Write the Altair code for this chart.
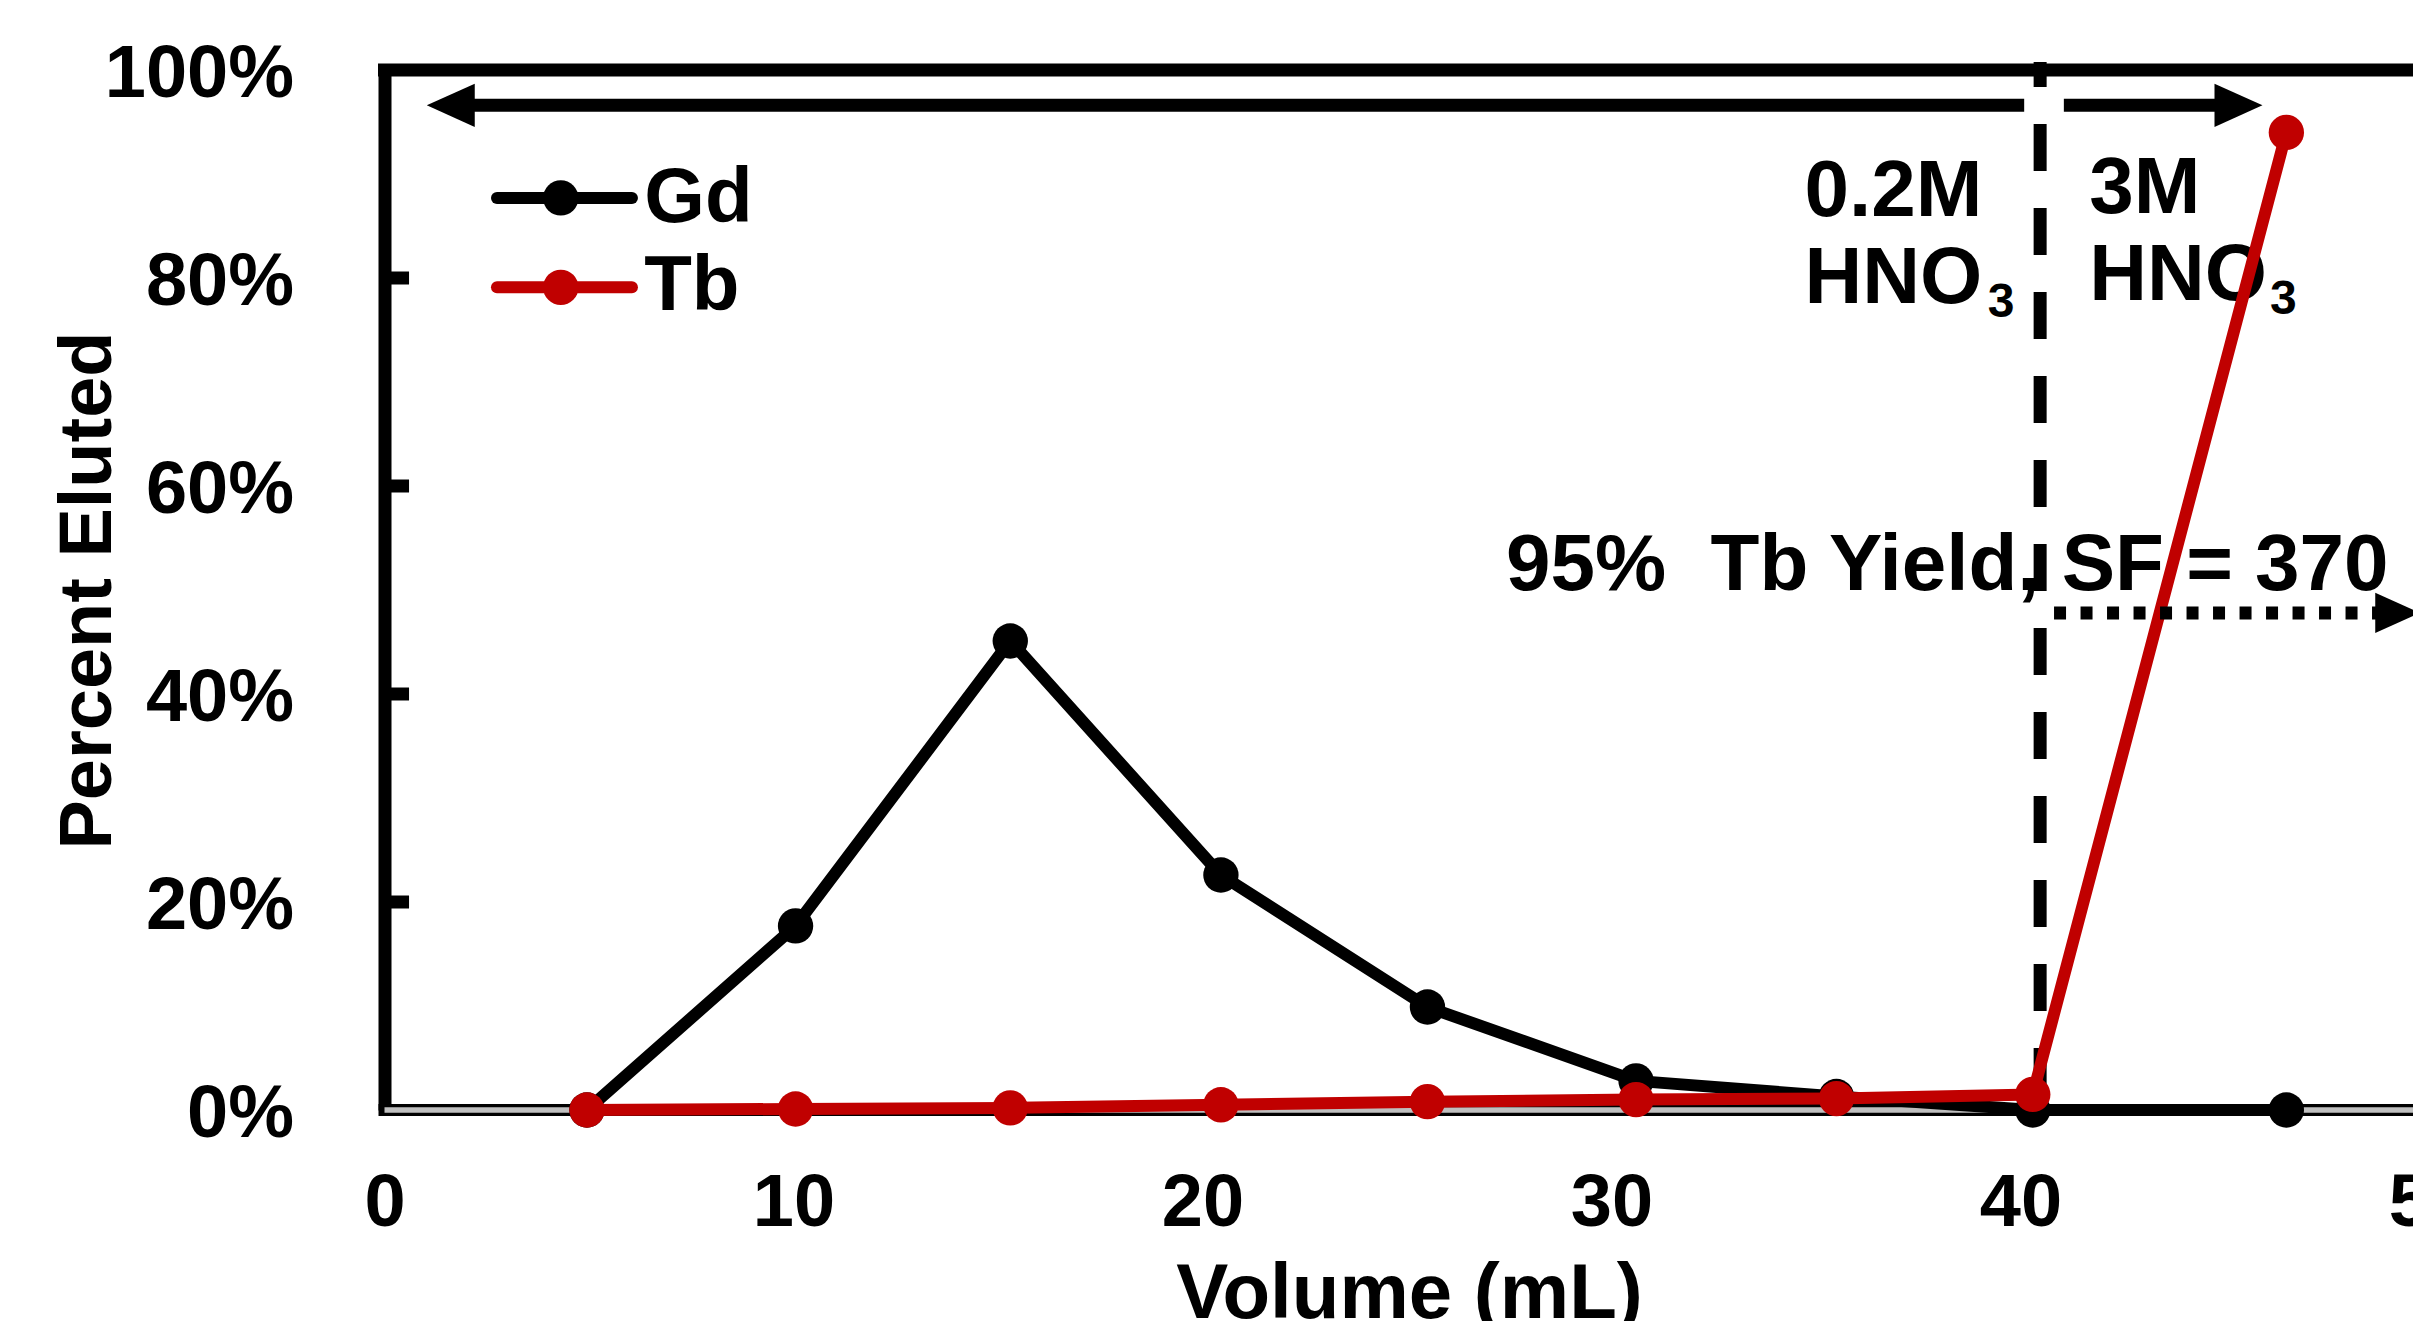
import altair as alt
import pandas as pd

# ---------------- data ----------------
volume_ml = [4.95, 10.05, 15.3, 20.45, 25.5, 30.6, 35.5, 40.3, 46.5]
gd_pct = [0.0, 17.7, 45.1, 22.6, 9.9, 2.8, 1.3, 0.0, 0.0]
tb_pct = [0.0, 0.1, 0.2, 0.5, 0.8, 1.0, 1.1, 1.5, 94.0]
elements = ["Gd", "Tb"]
element_colors = ["#000000", "#C00000"]
x_tick_values = [0, 10, 20, 30, 40, 50]
y_tick_values = [0, 20, 40, 60, 80, 100]
inner_tick_values = [20, 40, 60, 80]

# ---------------- annotations (data units) ----------------
divider_x = [40.48]
top_arrow_y = [96.6]
left_arrow = {"x": [1.7], "x2": [40.09]}
right_arrow = {"x": [41.06], "x2": [45.2]}
left_head_x = [1.62]
right_head_x = [45.33]
sf_arrow_y = [47.8]
sf_arrow = {"x": [40.82], "x2": [49.0]}
sf_head_x = [49.22]

region_big_text = ["0.2M", "HNO", "3M", "HNO"]
region_big_x = [34.72, 34.72, 41.68, 41.68]
region_big_y = [85.96, 77.6, 86.25, 77.9]
region_sub_text = ["3", "3"]
region_sub_x = [39.2, 46.1]
region_sub_y = [76.25, 76.5]
yield_text = ["95%\u00a0 Tb Yield, SF = 370"]
yield_x = [27.42]
yield_y = [50.0]

legend_line_x = [2.75]
legend_line_x2 = [6.05]
legend_point_x = [4.31]
legend_text_x = [6.35]
legend_line_y = [87.7, 79.1]
legend_text_y = [85.4, 76.9]

FONT = "Liberation Sans"
x_scale = alt.Scale(domain=[0, 50], range=[0, 2045], nice=False, zero=False)
y_scale = alt.Scale(domain=[0, 100], nice=False, zero=False)

x_axis = alt.Axis(
    values=x_tick_values, title="Volume (mL)", grid=False, domain=False,
    ticks=False, tickSize=0, labelFont=FONT, labelFontSize=74,
    labelFontWeight="bold", labelColor="#000000", labelBaseline="alphabetic",
    labelPadding=115, labelFlush=False, labelOverlap=False, labelLimit=0,
    titleFont=FONT, titleFontSize=78, titleFontWeight="bold",
    titleColor="#000000", titleX=1024.5, titleY=207, titleLimit=0,
    titleBaseline="alphabetic", titleAlign="center",
)
y_axis = alt.Axis(
    values=y_tick_values, title="Percent Eluted", grid=False, domain=True,
    domainColor="#000000", domainWidth=13, ticks=False, tickSize=0,
    labelExpr="datum.value + '%'", labelFont=FONT, labelFontSize=74,
    labelFontWeight="bold", labelColor="#000000", labelPadding=91,
    labelBaseline="middle", labelOffset=4.5, labelAlign="right",
    labelFlush=False, labelOverlap=False, labelLimit=0,
    titleFont=FONT, titleFontSize=74, titleFontWeight="bold",
    titleColor="#000000", titleAngle=270, titleX=-274, titleY=520,
    titleBaseline="alphabetic", titleAlign="center", titleLimit=0,
)


def XQ(field):
    return alt.X(f"{field}:Q", scale=x_scale, axis=x_axis)


def YQ(field):
    return alt.Y(f"{field}:Q", scale=y_scale, axis=y_axis)


gd_df = pd.DataFrame({"Volume": volume_ml, "Pct": gd_pct, "Element": elements[0]})
tb_df = pd.DataFrame({"Volume": volume_ml, "Pct": tb_pct, "Element": elements[1]})

LINE_W = 12
FRAME_W = 13

# frame: bottom axis (black with grey core), top border, inner ticks
bottom_df = pd.DataFrame({"x": [0], "x2": [50], "y": [0]})
bottom_black = alt.Chart(bottom_df).mark_rule(
    color="#000000", strokeWidth=12, strokeCap="square"
).encode(x=XQ("x"), x2="x2:Q", y=YQ("y"))
bottom_grey = alt.Chart(bottom_df).mark_rule(
    color="#BFBFBF", strokeWidth=5.5
).encode(x=XQ("x"), x2="x2:Q", y=YQ("y"))
top_df = pd.DataFrame({"x": [0], "x2": [50], "y": [100]})
top_border = alt.Chart(top_df).mark_rule(
    color="#000000", strokeWidth=FRAME_W, strokeCap="square"
).encode(x=XQ("x"), x2="x2:Q", y=YQ("y"))
inner_df = pd.DataFrame({"y": inner_tick_values, "x": 0.0, "x2": 0.6})
inner_ticks = alt.Chart(inner_df).mark_rule(
    color="#000000", strokeWidth=FRAME_W
).encode(x=XQ("x"), x2="x2:Q", y=YQ("y"))

# dashed divider
div_df = pd.DataFrame({"x": divider_x, "y": [100.77], "y2": [0]})
divider = alt.Chart(div_df).mark_rule(
    color="#000000", strokeWidth=FRAME_W, strokeDash=[47, 37], strokeDashOffset=22
).encode(x=XQ("x"), y=YQ("y"), y2="y2:Q")

# text annotations
big_df = pd.DataFrame({"x": region_big_x, "y": region_big_y, "t": region_big_text})
big_text = alt.Chart(big_df).mark_text(
    font=FONT, fontSize=80, fontWeight="bold", color="#000000",
    align="left", baseline="alphabetic"
).encode(x=XQ("x"), y=YQ("y"), text="t:N")
sub_df = pd.DataFrame({"x": region_sub_x, "y": region_sub_y, "t": region_sub_text})
sub_text = alt.Chart(sub_df).mark_text(
    font=FONT, fontSize=48, fontWeight="bold", color="#000000",
    align="left", baseline="alphabetic"
).encode(x=XQ("x"), y=YQ("y"), text="t:N")
yield_df = pd.DataFrame({"x": yield_x, "y": yield_y, "t": yield_text})
yield_label = alt.Chart(yield_df).mark_text(
    font=FONT, fontSize=80, fontWeight="bold", color="#000000",
    align="left", baseline="alphabetic"
).encode(x=XQ("x"), y=YQ("y"), text="t:N")

# data series
gd_line = alt.Chart(gd_df).mark_line(
    color=element_colors[0], strokeWidth=LINE_W, strokeJoin="round"
).encode(x=XQ("Volume"), y=YQ("Pct"))
gd_pts = alt.Chart(gd_df).mark_circle(
    color=element_colors[0], size=1250, opacity=1
).encode(x=XQ("Volume"), y=YQ("Pct"))
tb_line = alt.Chart(tb_df).mark_line(
    color=element_colors[1], strokeWidth=LINE_W, strokeJoin="round"
).encode(x=XQ("Volume"), y=YQ("Pct"))
tb_pts = alt.Chart(tb_df).mark_circle(
    color=element_colors[1], size=1250, opacity=1
).encode(x=XQ("Volume"), y=YQ("Pct"))

# arrows
RIGHT_HEAD = "M-1,-0.9 L1,0 L-1,0.9 Z"
LEFT_HEAD = "M1,-0.9 L-1,0 L1,0.9 Z"
la_df = pd.DataFrame({"x": left_arrow["x"], "x2": left_arrow["x2"], "y": top_arrow_y})
ra_df = pd.DataFrame({"x": right_arrow["x"], "x2": right_arrow["x2"], "y": top_arrow_y})
arrow_left = alt.Chart(la_df).mark_rule(color="#000000", strokeWidth=FRAME_W).encode(
    x=XQ("x"), x2="x2:Q", y=YQ("y"))
arrow_right = alt.Chart(ra_df).mark_rule(color="#000000", strokeWidth=FRAME_W).encode(
    x=XQ("x"), x2="x2:Q", y=YQ("y"))
lh_df = pd.DataFrame({"x": left_head_x, "y": top_arrow_y})
rh_df = pd.DataFrame({"x": right_head_x, "y": top_arrow_y})
head_left = alt.Chart(lh_df).mark_point(
    shape=LEFT_HEAD, size=2300, filled=True, color="#000000", opacity=1, strokeWidth=0
).encode(x=XQ("x"), y=YQ("y"))
head_right = alt.Chart(rh_df).mark_point(
    shape=RIGHT_HEAD, size=2300, filled=True, color="#000000", opacity=1, strokeWidth=0
).encode(x=XQ("x"), y=YQ("y"))
sf_df = pd.DataFrame({"x": sf_arrow["x"], "x2": sf_arrow["x2"], "y": sf_arrow_y})
sf_line = alt.Chart(sf_df).mark_rule(
    color="#000000", strokeWidth=FRAME_W, strokeDash=[12, 14.5]
).encode(x=XQ("x"), x2="x2:Q", y=YQ("y"))
sfh_df = pd.DataFrame({"x": sf_head_x, "y": sf_arrow_y})
sf_head = alt.Chart(sfh_df).mark_point(
    shape=RIGHT_HEAD, size=2000, filled=True, color="#000000", opacity=1, strokeWidth=0
).encode(x=XQ("x"), y=YQ("y"))

# manual legend
leg_df = pd.DataFrame({
    "Element": elements,
    "x": legend_line_x * 2,
    "x2": legend_line_x2 * 2,
    "px": legend_point_x * 2,
    "tx": legend_text_x * 2,
    "y": legend_line_y,
    "ty": legend_text_y,
})
leg_color = alt.Color("Element:N", scale=alt.Scale(domain=elements, range=element_colors), legend=None)
leg_lines = alt.Chart(leg_df).mark_rule(strokeWidth=LINE_W, strokeCap="round").encode(
    x=XQ("x"), x2="x2:Q", y=YQ("y"), color=leg_color)
leg_pts = alt.Chart(leg_df).mark_circle(size=1250, opacity=1).encode(
    x=XQ("px"), y=YQ("y"), color=leg_color)
leg_text = alt.Chart(leg_df).mark_text(
    font=FONT, fontSize=78, fontWeight="bold", color="#000000",
    align="left", baseline="alphabetic"
).encode(x=XQ("tx"), y=YQ("ty"), text="Element:N")

chart = alt.layer(
    bottom_black, bottom_grey, top_border, inner_ticks, divider,
    big_text, sub_text, yield_label,
    gd_line, gd_pts, tb_line, tb_pts,
    arrow_left, arrow_right, head_left, head_right, sf_line, sf_head,
    leg_lines, leg_pts, leg_text,
).properties(
    width=2028.5,
    height=1040,
    padding={"left": 376.5, "top": 62, "right": 0, "bottom": 211},
    autosize=alt.AutoSizeParams(type="none"),
    background="#FFFFFF",
).configure_view(strokeWidth=0)

chart.save("out.html", embed_options={"renderer": "svg", "actions": False})
